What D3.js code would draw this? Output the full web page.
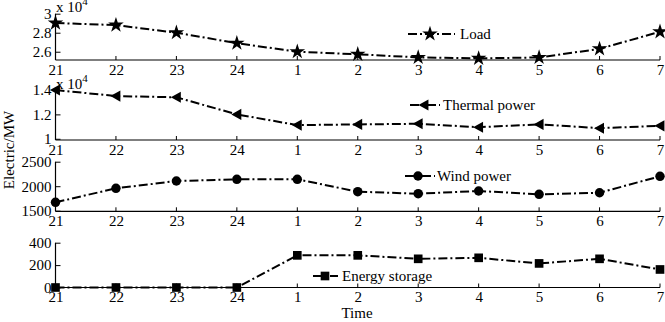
<!DOCTYPE html>
<html><head><meta charset="utf-8">
<script src="https://cdn.jsdelivr.net/npm/d3@7"></script>
<style>body{margin:0;background:#fff}svg{display:block}text{font-family:"Liberation Serif","Times New Roman",serif;fill:#000}</style>
</head><body>
<script>
const categories = ["21","22","23","24","1","2","3","4","5","6","7"];
const loadValues = [2.902, 2.88, 2.80, 2.69, 2.60, 2.573, 2.54, 2.53, 2.54, 2.63, 2.81];
const thermalValues = [1.40, 1.35, 1.34, 1.20, 1.112, 1.118, 1.123, 1.095, 1.118, 1.087, 1.106];
const windValues = [1671, 1957, 2106, 2141, 2141, 1888, 1847, 1902, 1835, 1867, 2202];
const storageValues = [0, 0, 0, 0, 287, 287, 256, 265, 215, 256, 161];
const loadTicks = [2.6, 2.8, 3];
const thermalTicks = [1, 1.2, 1.4];
const windTicks = [1500, 2000, 2500];
const storageTicks = [0, 200, 400];

const W = 665, H = 322;
const svg = d3.select("body").append("svg").attr("width", W).attr("height", H);
const x = d3.scalePoint().domain(categories).range([55.5, 660]);

const triLeft = { draw(ctx, size) { const r = Math.sqrt(size) * 0.62; ctx.moveTo(-r, 0); ctx.lineTo(r*0.8, -r); ctx.lineTo(r*0.8, r); ctx.closePath(); } };

const panels = [
  {vals: loadValues, ticks: loadTicks, domain: [2.513, 3.0], range: [60, 13.7], sym: d3.symbolStar, size: 75, name: "Load", exp: true,
   leg: {x1: 408, x2: 455, mx: 430, tx: 460, y: 34}},
  {vals: thermalValues, ticks: thermalTicks, domain: [0.99, 1.4], range: [140, 90], sym: triLeft, size: 80, name: "Thermal power", exp: true,
   leg: {x1: 410, x2: 440, mx: 424, tx: 443, y: 105}},
  {vals: windValues, ticks: windTicks, domain: [1488, 2500], range: [211.3, 161.7], sym: d3.symbolCircle, size: 70, name: "Wind power",
   leg: {x1: 405, x2: 435, mx: 418, tx: 437, y: 176}},
  {vals: storageValues, ticks: storageTicks, domain: [0, 400], range: [287.5, 242.7], sym: d3.symbolSquare, size: 75, name: "Energy storage",
   leg: {x1: 313, x2: 338, mx: 325, tx: 342, y: 276}}
];

const dash = "9,3,2,3";
panels.forEach(p => {
  const y = d3.scaleLinear().domain(p.domain).range(p.range);
  const g = svg.append("g");
  const base = p.range[0];
  const xa = g.append("g").attr("transform", `translate(0,${base})`)
    .call(d3.axisBottom(x).tickSize(0).tickPadding(4));
  xa.select(".domain").remove();
  xa.selectAll("text").attr("font-size", 15).attr("font-family", "Liberation Serif");
  g.append("line").attr("x1", x.range()[0]).attr("x2", x.range()[1]).attr("y1", base).attr("y2", base).attr("stroke", "#000").attr("stroke-width", 1.2);
  categories.slice(1).forEach(c => {
    g.append("line").attr("x1", x(c)).attr("x2", x(c)).attr("y1", base).attr("y2", base - 4).attr("stroke", "#000").attr("stroke-width", 1);
  });
  const ya = g.append("g").attr("transform", `translate(${x.range()[0]},0)`)
    .call(d3.axisLeft(y).tickValues(p.ticks).tickSize(-5).tickPadding(4).tickFormat(d3.format("")));
  ya.select(".domain").remove();
  ya.selectAll("text").attr("font-size", 15).attr("font-family", "Liberation Serif");
  ya.selectAll("line").attr("stroke-width", 1);
  g.append("line").attr("x1", x.range()[0]).attr("x2", x.range()[0]).attr("y1", y(p.ticks[p.ticks.length-1])).attr("y2", base).attr("stroke", "#000").attr("stroke-width", 1.2);
  g.append("path").datum(p.vals)
    .attr("d", d3.line().x((d, i) => x(categories[i])).y(d => y(d)))
    .attr("fill", "none").attr("stroke", "#000").attr("stroke-width", 2).attr("stroke-dasharray", dash);
  g.selectAll(".m").data(p.vals).enter().append("path")
    .attr("transform", (d, i) => `translate(${x(categories[i])},${y(d)})`)
    .attr("d", d3.symbol().type(p.sym).size(p.size)).attr("fill", "#000");
  const L = p.leg;
  g.append("line").attr("x1", L.x1).attr("x2", L.x2).attr("y1", L.y).attr("y2", L.y).attr("stroke", "#000").attr("stroke-width", 2).attr("stroke-dasharray", dash);
  g.append("path").attr("transform", `translate(${L.mx},${L.y})`).attr("d", d3.symbol().type(p.sym).size(p.size)).attr("fill", "#000");
  g.append("text").attr("x", L.tx).attr("y", L.y + 5).attr("font-size", 15).text(p.name);
  if (p.exp) {
    const t = g.append("text").attr("x", 56).attr("y", p.range[1] - 1.5).attr("font-size", 15);
    t.append("tspan").text("x 10");
    t.append("tspan").attr("font-size", 11).attr("dy", -7).text("4");
  }
});

svg.append("text").attr("transform", "translate(14,150) rotate(-90)").attr("text-anchor", "middle").attr("font-size", 15).text("Electric/MW");
svg.append("text").attr("x", 357).attr("y", 318).attr("text-anchor", "middle").attr("font-size", 15).text("Time");
</script>
</body></html>
